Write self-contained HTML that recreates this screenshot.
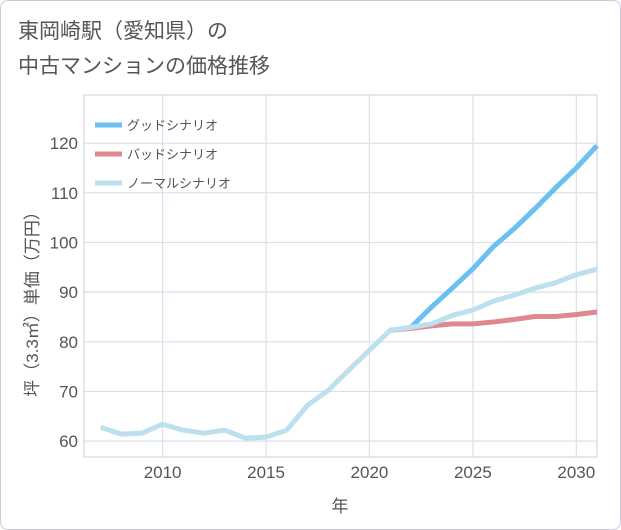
<!DOCTYPE html>
<html><head><meta charset="utf-8"><style>
body{margin:0;background:#fff;font-family:"Liberation Sans","Noto Sans CJK JP",sans-serif}
.card{position:absolute;left:0;top:0;width:619px;height:528px;border:1px solid #ccd;border-radius:8px;background:#fff}
.title{position:absolute;left:18px;top:14px;font-size:21px;color:#555;line-height:35px}
svg{position:absolute;left:0;top:0}
</style></head><body>
<div class="card"></div>
<div class="title">東岡崎駅（愛知県）の<br>中古マンションの価格推移</div>
<svg id="c" width="621" height="530"></svg>
<script>
const years=[2007,2008,2009,2010,2011,2012,2013,2014,2015,2016,2017,2018,2019,2020,2021,2022,2023,2024,2025,2026,2027,2028,2029,2030,2031];
const normal=[62.8,61.4,61.6,63.4,62.2,61.6,62.2,60.6,60.8,62.2,67.2,70.2,74.3,78.3,82.3,82.9,83.6,85.3,86.4,88.2,89.4,90.8,91.9,93.5,94.6];
const scenYears=[2021,2022,2023,2024,2025,2026,2027,2028,2029,2030,2031];
const good=[82.3,82.9,87.0,90.8,94.7,99.2,102.8,106.8,111.0,115.0,119.5];
const bad=[82.3,82.7,83.2,83.6,83.6,84.0,84.5,85.1,85.1,85.5,86.0];
const yTicks=[60,70,80,90,100,110,120];
const xTicks=[2010,2015,2020,2025,2030];
const L=84,R=597,T=95,B=457,x0=2006.2,x1=2031,y0=56.8,y1=129.7;
const X=v=>L+(v-x0)/(x1-x0)*(R-L), Y=v=>B-(v-y0)/(y1-y0)*(B-T);
const s=document.getElementById('c'),NS='http://www.w3.org/2000/svg';
function mk(t,a,txt){const e=document.createElementNS(NS,t);for(const k in a)e.setAttribute(k,a[k]);if(txt!=null)e.textContent=txt;s.appendChild(e);return e;}
let e=mk('rect',{x:L,y:T,width:R-L,height:B-T,fill:'#fff',stroke:'#ccd'});


for(let y=2006.5;y<=2031;y+=1){}
yTicks.forEach(v=>{let g=mk('line',{x1:L,x2:R,y1:Y(v),y2:Y(v),stroke:'#d6e2ec','stroke-width':1.2});


let t=mk('text',{x:L-6,y:Y(v)+6,'text-anchor':'end','font-size':17,fill:'#555'},v);

});
xTicks.forEach(v=>{let g=mk('line',{x1:X(v),x2:X(v),y1:T,y2:B,stroke:'#d6e2ec','stroke-width':1.2});


let t=mk('text',{x:X(v),y:B+21,'text-anchor':'middle','font-size':17,fill:'#555'},v);

});
function line(xs,vs,c,n){const p=mk('polyline',{points:xs.map((x,i)=>X(x)+','+Y(vs[i])).join(' '),fill:'none',stroke:c,'stroke-width':5,'stroke-linejoin':'round'});

}
line(scenYears,good,'#6bbff2','good-scenario-line');
line(scenYears,bad,'#e08890','bad-scenario-line');
line(years,normal,'#bde0ee','normal-scenario-line');
const leg=[['グッドシナリオ','#6bbff2'],['バッドシナリオ','#e08890'],['ノーマルシナリオ','#bde0ee']];
leg.forEach((l,i)=>{const yy=125+i*29;let a=mk('line',{x1:95,x2:122,y1:yy,y2:yy,stroke:l[1],'stroke-width':5});


let t=mk('text',{x:127,y:yy+5,'font-size':13,fill:'#555'},l[0]);

});
let xt=mk('text',{x:340,y:512,'text-anchor':'middle','font-size':17,fill:'#555'},'年');


let yt=mk('text',{x:0,y:0,'text-anchor':'middle','font-size':17,fill:'#555',transform:'translate(38,300) rotate(-90)'},'坪（3.3㎡）単価（万円）');


</script></body></html>
